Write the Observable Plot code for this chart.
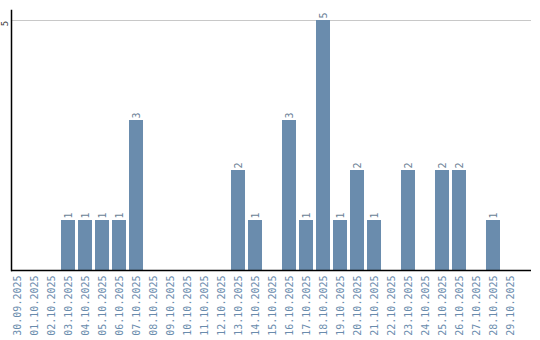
<!DOCTYPE html>
<html>
<head>
<meta charset="utf-8">
<script src="https://cdn.jsdelivr.net/npm/d3@7"></script>
<script src="https://cdn.jsdelivr.net/npm/@observablehq/plot@0.6"></script>
<style>
  body { margin: 0; background: #fff; }
  #chart svg { display: block; }
</style>
</head>
<body>
<div id="chart"></div>
<script>
const dates = ["30.09.2025","01.10.2025","02.10.2025","03.10.2025","04.10.2025","05.10.2025","06.10.2025","07.10.2025","08.10.2025","09.10.2025","10.10.2025","11.10.2025","12.10.2025","13.10.2025","14.10.2025","15.10.2025","16.10.2025","17.10.2025","18.10.2025","19.10.2025","20.10.2025","21.10.2025","22.10.2025","23.10.2025","24.10.2025","25.10.2025","26.10.2025","27.10.2025","28.10.2025","29.10.2025"];
const counts = [0,0,0,1,1,1,1,3,0,0,0,0,0,2,1,0,3,1,5,1,2,1,0,2,0,2,2,0,1,0];
const yTicks = [5];

const data = dates.map((d, i) => ({date: d, value: counts[i]}));
const nonZero = data.filter(d => d.value > 0);

const barColor = "#6a8cad";
const labelColor = "#6a8cad";

const chart = Plot.plot({
  width: 540,
  height: 340,
  marginLeft: 11,
  marginRight: 9,
  marginTop: 10,
  marginBottom: 70,
  style: {fontFamily: "DejaVu Sans Mono", fontSize: "10px", background: "#fff"},
  x: {domain: dates, insetLeft: -1, insetRight: 14, paddingInner: 0.176, paddingOuter: 0, round: false, label: null},
  y: {domain: [0, 5.2], label: null},
  marks: [
    Plot.ruleY(yTicks, {stroke: "#c8c8c8", strokeWidth: 1}),
    Plot.barY(data, {x: "date", y: "value", fill: barColor}),
    Plot.text(nonZero, {x: "date", y: "value", text: d => String(d.value), rotate: -90, textAnchor: "start", dy: -2, fill: "#6a7f96", fontSize: 10}),
    Plot.ruleY([0], {stroke: "#000", strokeWidth: 1.5}),
    Plot.axisX({tickSize: 0, tickRotate: -90, tickPadding: 5, fill: labelColor, label: null, fontSize: 10}),
    Plot.axisY(yTicks, {tickSize: 0, tickRotate: -90, tickPadding: 4, tickFormat: "d", dy: 3, fill: "#333", label: null, fontSize: 9}),
    Plot.frame({anchor: "left", stroke: "#000", strokeWidth: 1.5})
  ]
});
document.getElementById("chart").append(chart);
</script>
</body>
</html>
